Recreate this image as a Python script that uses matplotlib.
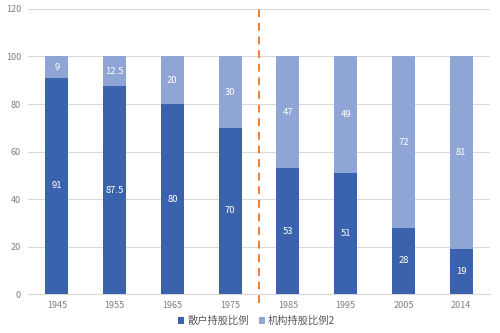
import matplotlib.pyplot as plt
import numpy as np

plt.rcParams['font.family'] = ['Noto Sans CJK SC', 'DejaVu Sans']

years = ['1945', '1955', '1965', '1975', '1985', '1995', '2005', '2014']
retail = [91, 87.5, 80, 70, 53, 51, 28, 19]
institution = [9, 12.5, 20, 30, 47, 49, 72, 81]

dark = '#3b62ad'
light = '#8fa5d6'
grey = '#7f7f7f'

fig = plt.figure(figsize=(5, 3.33), dpi=100)
ax = fig.add_axes([0.056, 0.117, 0.924, 0.856])

x = np.arange(len(years))
b1 = ax.bar(x, retail, width=0.4, color=dark, label='散户持股比例', zorder=3)
b2 = ax.bar(x, institution, width=0.4, bottom=retail, color=light,
            label='机构持股比例2', zorder=3)

for xi, r, i in zip(x, retail, institution):
    ax.text(xi, r / 2, f'{r:g}', ha='center', va='center', color='white', fontsize=6.8, zorder=4)
    ax.text(xi, r + i / 2, f'{i:g}', ha='center', va='center', color='white', fontsize=6.8, zorder=4)

ax.set_xlim(-0.5, len(years) - 0.5)
ax.set_ylim(0, 120)
ax.set_yticks(range(0, 121, 20))
ax.set_xticks(x)
ax.set_xticklabels(years)
ax.grid(axis='y', color='#d9d9d9', linewidth=0.8, zorder=0)
for s in ['top', 'right', 'left']:
    ax.spines[s].set_visible(False)
ax.spines['bottom'].set_color('#d9d9d9')
ax.tick_params(length=0, colors=grey, labelsize=6.5, pad=5)

# dividing line between 1975 and 1985
ax.plot([3.5, 3.5], [-0.03, 1.0], transform=ax.get_xaxis_transform(),
        color='#ed7d31', linestyle=(0, (4, 3)), linewidth=1.4, clip_on=False, zorder=5)

leg = ax.legend(loc='center', bbox_to_anchor=(0.495, -0.095), ncol=2, frameon=False,
                fontsize=7.4, handlelength=0.6, handleheight=0.6, handletextpad=0.3,
                columnspacing=1.0, borderpad=0)
for t in leg.get_texts():
    t.set_color('#595959')

fig.savefig('out.png', dpi=100)
